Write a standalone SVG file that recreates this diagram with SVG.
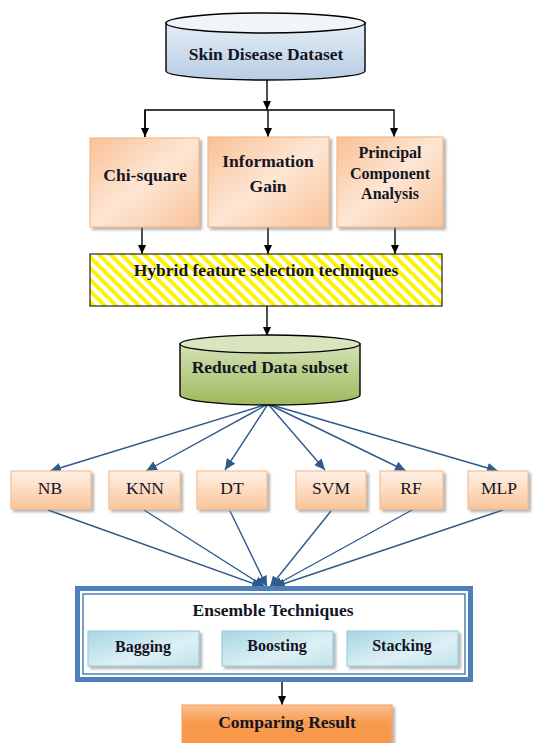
<svg xmlns="http://www.w3.org/2000/svg" width="533" height="743" viewBox="0 0 533 743">
  <style>
    text { font-family: "Liberation Serif", "Times New Roman", serif; fill: #141423; text-anchor: middle; }
    .b { font-weight: bold; font-size: 17.5px; }
    .bs { font-weight: bold; font-size: 16px; }
    .r { font-size: 17.5px; }
    .blk { stroke: #000; stroke-width: 1.4; fill: none; }
    .blu { stroke: #2E5A8C; stroke-width: 1.4; fill: none; }
    .peach { fill: url(#gPeach); stroke: #F6B98A; stroke-width: 1.2; filter: url(#sh); }
    .clf { fill: url(#gClf); stroke: #F7BE92; stroke-width: 1.2; filter: url(#sh); }
    .ens { fill: url(#gCyan); stroke: #9DD0DD; stroke-width: 1.2; filter: url(#sh); }
  </style>
  <defs>
    <filter id="sh" x="-10%" y="-10%" width="125%" height="130%">
      <feDropShadow dx="2.5" dy="2.5" stdDeviation="0.8" flood-color="#777" flood-opacity="0.55"/>
    </filter>
    <linearGradient id="gPeach" x1="0" y1="0" x2="1" y2="1">
      <stop offset="0" stop-color="#F9C195"/>
      <stop offset="0.5" stop-color="#FDE6D4"/>
      <stop offset="1" stop-color="#FAC398"/>
    </linearGradient>
    <linearGradient id="gClf" x1="0" y1="0" x2="0" y2="1">
      <stop offset="0" stop-color="#FEF1E7"/>
      <stop offset="1" stop-color="#FAC59A"/>
    </linearGradient>
    <linearGradient id="gCyan" x1="0" y1="0" x2="1" y2="1">
      <stop offset="0" stop-color="#A6D6E3"/>
      <stop offset="0.6" stop-color="#DDF0F5"/>
      <stop offset="1" stop-color="#C2E3EC"/>
    </linearGradient>
    <linearGradient id="gBlueCyl" x1="0" y1="0" x2="0" y2="1">
      <stop offset="0" stop-color="#E6EEF7"/>
      <stop offset="1" stop-color="#B7CCE4"/>
    </linearGradient>
    <linearGradient id="gGreenCyl" x1="0" y1="0" x2="0" y2="1">
      <stop offset="0" stop-color="#D4E2B6"/>
      <stop offset="1" stop-color="#9DB95C"/>
    </linearGradient>
    <linearGradient id="gOrange" x1="0" y1="0" x2="0" y2="1">
      <stop offset="0" stop-color="#FAC091"/>
      <stop offset="0.45" stop-color="#F89A4E"/>
      <stop offset="1" stop-color="#F79646"/>
    </linearGradient>
    <pattern id="hatch" width="8" height="8" patternUnits="userSpaceOnUse" patternTransform="rotate(-45)">
      <rect width="8" height="8" fill="#fff"/>
      <rect width="4" height="8" fill="#FFF200"/>
    </pattern>
    <marker id="ab" markerUnits="userSpaceOnUse" markerWidth="10" markerHeight="8" refX="9" refY="4" orient="auto">
      <path d="M0,0 L9,4 L0,8 z" fill="#000"/>
    </marker>
    <marker id="au" markerUnits="userSpaceOnUse" markerWidth="12" markerHeight="10" refX="11" refY="5" orient="auto">
      <path d="M0,0 L11,5 L0,10 z" fill="#2E5A8C"/>
    </marker>
  </defs>

  <!-- connectors -->
  <g id="connectors">
    <line class="blk" x1="267" y1="80" x2="267" y2="110" marker-end="url(#ab)"/>
    <polyline class="blk" points="145,137 145,110 394,110 394,137" marker-end="url(#ab)"/>
    <line class="blk" x1="145" y1="110" x2="145" y2="137" marker-end="url(#ab)"/>
    <line class="blk" x1="268" y1="110" x2="268" y2="137" marker-end="url(#ab)"/>
    <line class="blk" x1="142" y1="227" x2="142" y2="254" marker-end="url(#ab)"/>
    <line class="blk" x1="268" y1="227" x2="268" y2="254" marker-end="url(#ab)"/>
    <line class="blk" x1="395" y1="227" x2="395" y2="254" marker-end="url(#ab)"/>
    <line class="blk" x1="267" y1="306" x2="267" y2="336" marker-end="url(#ab)"/>

    <line class="blu" x1="268" y1="404" x2="50" y2="471" marker-end="url(#au)"/>
    <line class="blu" x1="268" y1="404" x2="146" y2="471" marker-end="url(#au)"/>
    <line class="blu" x1="268" y1="404" x2="225" y2="470" marker-end="url(#au)"/>
    <line class="blu" x1="268" y1="404" x2="325" y2="470" marker-end="url(#au)"/>
    <line class="blu" x1="268" y1="404" x2="406" y2="471" marker-end="url(#au)"/>
    <line class="blu" x1="268" y1="404" x2="498" y2="471" marker-end="url(#au)"/>

    <line class="blu" x1="48" y1="510" x2="263" y2="587" marker-end="url(#au)"/>
    <line class="blu" x1="144" y1="510" x2="265" y2="587" marker-end="url(#au)"/>
    <line class="blu" x1="230" y1="511" x2="267" y2="587" marker-end="url(#au)"/>
    <line class="blu" x1="331" y1="511" x2="270" y2="587" marker-end="url(#au)"/>
    <line class="blu" x1="412" y1="510" x2="272" y2="587" marker-end="url(#au)"/>
    <line class="blu" x1="503" y1="510" x2="274" y2="587" marker-end="url(#au)"/>

    <line class="blk" x1="282" y1="681" x2="282" y2="705" marker-end="url(#ab)"/>
  </g>

  <!-- source dataset -->
  <g id="dataset">
    <path d="M166,23 L166,71 A99.5,9 0 0 0 365,71 L365,23 Z" fill="url(#gBlueCyl)" stroke="#000" stroke-width="1.4"/>
    <ellipse cx="265.5" cy="23" rx="99.5" ry="10" fill="#F1F5FA" stroke="#000" stroke-width="1.4"/>
    <text class="b" x="266" y="60">Skin Disease Dataset</text>
  </g>

  <!-- feature selection methods -->
  <g id="chi-square">
    <rect class="peach" x="90" y="138" width="109" height="89"/>
    <text class="b" x="145" y="181">Chi-square</text>
  </g>
  <g id="info-gain">
    <rect class="peach" x="208" y="137" width="121" height="90"/>
    <text class="b" x="268" y="167">Information</text>
    <text class="b" x="268" y="192">Gain</text>
  </g>
  <g id="pca">
    <rect class="peach" x="337" y="137" width="106" height="90"/>
    <text class="bs" x="390" y="158">Principal</text>
    <text class="bs" x="390" y="179">Component</text>
    <text class="bs" x="390" y="199">Analysis</text>
  </g>

  <g id="hybrid">
    <rect x="90" y="254" width="352" height="52" fill="url(#hatch)" stroke="#222" stroke-width="1.2"/>
    <text class="b" x="266" y="276">Hybrid feature selection techniques</text>
  </g>

  <g id="reduced">
    <path d="M180,344 L180,395 A90,10 0 0 0 360,395 L360,344 Z" fill="url(#gGreenCyl)" stroke="#000" stroke-width="1.4"/>
    <ellipse cx="270" cy="344" rx="90" ry="9" fill="#D8E5BF" stroke="#000" stroke-width="1.4"/>
    <text class="b" x="270" y="373">Reduced Data subset</text>
  </g>

  <!-- classifiers -->
  <g id="nb"><rect class="clf" x="11" y="471" width="80" height="38"/><text class="r" x="50" y="494">NB</text></g>
  <g id="knn"><rect class="clf" x="109" y="471" width="71" height="38"/><text class="r" x="145" y="494">KNN</text></g>
  <g id="dt"><rect class="clf" x="197" y="471" width="70" height="38"/><text class="r" x="232" y="494">DT</text></g>
  <g id="svm"><rect class="clf" x="296" y="471" width="70" height="38"/><text class="r" x="331" y="494">SVM</text></g>
  <g id="rf"><rect class="clf" x="380" y="471" width="63" height="38"/><text class="r" x="411" y="494">RF</text></g>
  <g id="mlp"><rect class="clf" x="468" y="471" width="60" height="38"/><text class="r" x="499" y="494">MLP</text></g>

  <!-- ensemble block -->
  <g id="ensemble">
    <rect x="77.5" y="588.5" width="393" height="91" fill="#fff" stroke="#4F7FBA" stroke-width="5"/>
    <rect x="83" y="594" width="382" height="80" fill="none" stroke="#4F7FBA" stroke-width="1.5"/>
    <text class="b" x="273" y="616">Ensemble Techniques</text>
  </g>
  <g id="bagging"><rect class="ens" x="88" y="631" width="111" height="35"/><text class="bs" x="143" y="652">Bagging</text></g>
  <g id="boosting"><rect class="ens" x="222" y="631" width="111" height="35"/><text class="bs" x="277" y="651">Boosting</text></g>
  <g id="stacking"><rect class="ens" x="347" y="631" width="111" height="35"/><text class="bs" x="402" y="651">Stacking</text></g>

  <g id="result">
    <rect x="182" y="705" width="210" height="40" fill="url(#gOrange)" stroke="#F5A66A" stroke-width="1.2" filter="url(#sh)"/>
    <text class="b" x="287" y="728">Comparing Result</text>
  </g>
</svg>
